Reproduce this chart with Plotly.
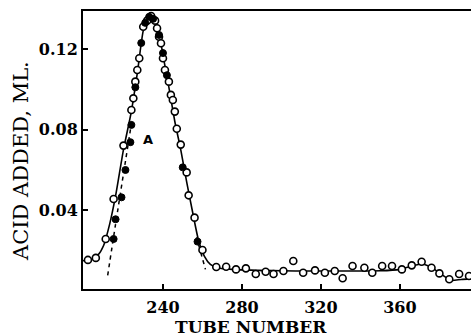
import plotly.graph_objects as go

# Titration of tube fractions: acid added per tube
open_tube = [202, 206, 211, 215, 220, 224, 225, 226, 227, 228, 230, 232, 234, 236, 237,
             238, 239, 240, 241, 243, 244, 245, 246, 247, 249, 252, 253, 256, 260,
             267, 272, 277, 282, 287, 292, 296, 301, 306, 311, 317, 322, 327, 331,
             336, 342, 346, 351, 356, 361, 366, 371, 376, 380, 385, 390, 395]
open_acid = [0.0152, 0.0162, 0.0256, 0.0455, 0.0720, 0.0897, 0.0955, 0.1038, 0.1096, 0.1154,
             0.1311, 0.1341, 0.1364, 0.1341, 0.1303, 0.1261, 0.1229, 0.1154, 0.1096, 0.1038,
             0.0972, 0.0947, 0.0889, 0.0804, 0.0725, 0.0587, 0.0473, 0.0362, 0.0201,
             0.0117, 0.0118, 0.0105, 0.0110, 0.0082, 0.0093, 0.0082, 0.0097, 0.0147, 0.0088,
             0.0100, 0.0088, 0.0097, 0.0061, 0.0122, 0.0113, 0.0088, 0.0122, 0.0122, 0.0105,
             0.0125, 0.0143, 0.0113, 0.0085, 0.0056, 0.0082, 0.0072]

filled_tube = [215, 216, 219, 221, 223.5, 224, 226, 229, 231, 233, 235, 238, 240, 242, 250, 257.5]
filled_acid = [0.0256, 0.0354, 0.0463, 0.0599, 0.0737, 0.0823, 0.1010, 0.1230, 0.1330,
               0.1360, 0.1350, 0.1270, 0.1180, 0.1070, 0.0612, 0.0243]

# Smooth curve drawn through the open-circle run
curve_tube = [199.5, 204, 207, 210, 213, 216, 220, 224, 227, 230, 232, 234, 236, 238, 240,
              243, 246, 249, 252, 255, 258, 261, 264, 268, 275, 300, 350, 360, 366, 371,
              376, 381, 386, 391, 396]
curve_acid = [0.0148, 0.0155, 0.0175, 0.0225, 0.0330, 0.0470, 0.0700, 0.0890, 0.1080, 0.1290,
              0.1345, 0.1365, 0.1340, 0.1280, 0.1170, 0.1010, 0.0840, 0.0700, 0.0540, 0.0390,
              0.0250, 0.0170, 0.0130, 0.0112, 0.0105, 0.0098, 0.0098, 0.0105, 0.0122, 0.0132,
              0.0115, 0.0080, 0.0050, 0.0055, 0.0058]

# Extrapolated flanks of the peak (dashed)
left_dash_tube = [212, 216, 220, 224.5]
left_dash_acid = [0.0075, 0.0330, 0.0580, 0.0860]
right_dash_tube = [257.0, 261.5]
right_dash_acid = [0.0265, 0.0105]

x_ticks = [240, 280, 320, 360]
y_ticks = [0.04, 0.08, 0.12]
y_tick_text = ["0.04", "0.08", "0.12"]

serif = "DejaVu Serif"
tick_font = dict(family=serif, size=16, color="black", weight="bold")

fig = go.Figure()
fig.add_trace(go.Scatter(x=curve_tube, y=curve_acid, mode="lines",
                         line=dict(color="black", width=1.6, shape="spline", smoothing=0.6),
                         hoverinfo="skip"))
fig.add_trace(go.Scatter(x=left_dash_tube, y=left_dash_acid, mode="lines",
                         line=dict(color="black", width=1.5, dash="4px,4px", shape="spline"),
                         hoverinfo="skip"))
fig.add_trace(go.Scatter(x=right_dash_tube, y=right_dash_acid, mode="lines",
                         line=dict(color="black", width=1.5, dash="4px,4px"),
                         hoverinfo="skip"))
fig.add_trace(go.Scatter(x=open_tube, y=open_acid, mode="markers",
                         marker=dict(symbol="circle", size=7, color="white",
                                     line=dict(color="black", width=1.6))))
fig.add_trace(go.Scatter(x=filled_tube, y=filled_acid, mode="markers",
                         marker=dict(symbol="circle", size=7, color="black",
                                     line=dict(color="black", width=1))))

fig.add_annotation(x=232.4, y=0.0748, text="A", showarrow=False,
                   font=dict(family="DejaVu Sans", size=13, color="black", weight="bold"))

# Axis titles placed in pixel space
fig.add_annotation(xref="paper", yref="paper", x=(251 - 83) / 388, y=-(327 - 289) / 278,
                   text="TUBE NUMBER", showarrow=False, xanchor="center", yanchor="middle",
                   font=dict(family=serif, size=17, color="black", weight="bold"))
fig.add_annotation(xref="paper", yref="paper", x=-(83 - 21) / 388, y=(289 - 161) / 278,
                   text="ACID ADDED, ML.", showarrow=False, textangle=-90,
                   xanchor="center", yanchor="middle",
                   font=dict(family=serif, size=21, color="black"))

fig.update_layout(
    width=471, height=336,
    margin=dict(l=83, r=0, t=11, b=47),
    paper_bgcolor="white", plot_bgcolor="white",
    showlegend=False,
    font=dict(family=serif, color="black"),
    xaxis=dict(range=[199.5, 396], tickvals=x_ticks, ticks="inside", ticklen=5,
               tickwidth=1.5, tickcolor="black", showgrid=False, zeroline=False,
               showline=True, linecolor="black", linewidth=2, mirror=True,
               tickfont=tick_font, ticklabelstandoff=3),
    yaxis=dict(range=[0.00075, 0.1389], tickvals=y_ticks, ticktext=y_tick_text,
               ticks="inside", ticklen=5, tickwidth=1.5, tickcolor="black",
               showgrid=False, zeroline=False, showline=True, linecolor="black",
               linewidth=2, tickfont=tick_font),
)

fig.write_html("out.html")
